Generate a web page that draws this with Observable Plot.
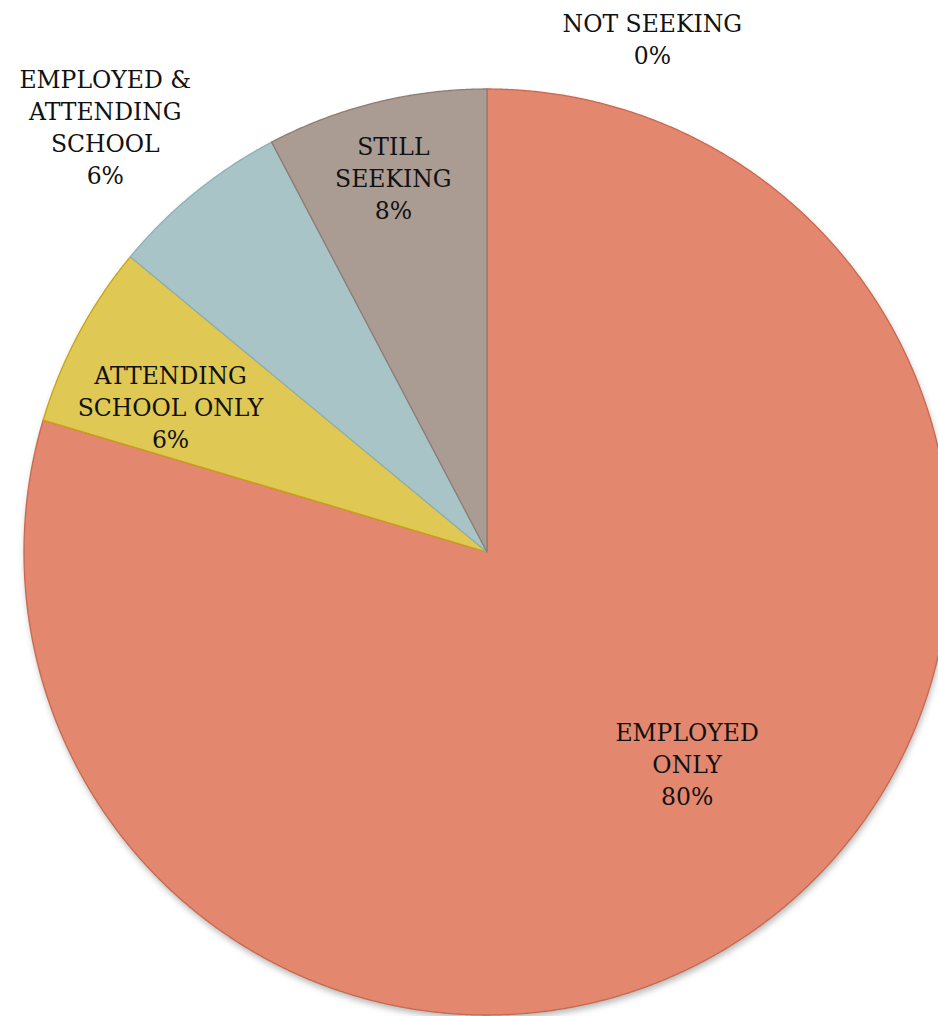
<!DOCTYPE html>
<html><head><meta charset="utf-8">
<script src="https://cdn.jsdelivr.net/npm/d3@7"></script>
<script src="https://cdn.jsdelivr.net/npm/@observablehq/plot@0.6"></script>
<style>html,body{margin:0;padding:0;background:#fff;overflow:hidden}</style>
</head><body><div id="chart"></div>
<script>
// ---- data ----
const categories = ["EMPLOYED\nONLY", "ATTENDING\nSCHOOL ONLY", "EMPLOYED &\nATTENDING\nSCHOOL", "STILL\nSEEKING", "NOT SEEKING"];
const values = [79.6, 6.4, 6.3, 7.7, 0];
const percentLabels = ["80%", "6%", "6%", "8%", "0%"];

// ---- styles / layout ----
const fills = ["#E4876F", "#DFC853", "#A9C4C6", "#AA9C92", "#9FB3CC"];
const strokes = ["#C9684C", "#C4A612", "#8DB0B4", "#8C7D73", "#7F94B0"];
const labelRadius = [0.626, 0.754, 1.237, 0.837, 1.168];
const labelAngleShift = [-6.8, -3.3, -2.8, -0.2, 17.75];

const slices = categories.map((c, i) => ({name: c, value: values[i], pct: percentLabels[i], i}));
const arcs = d3.pie().sort(null).value(d => d.value).startAngle(0).endAngle(2 * Math.PI)(slices);

function wedge(a0, a1) {
  const n = Math.max(2, Math.ceil((a1 - a0) / 0.004));
  return d3.range(n + 1).map(k => {
    const a = a0 + (a1 - a0) * k / n;
    return {x1: Math.sin(a), y1: Math.cos(a), x2: 0, y2: 0};
  });
}

const cx = 487, cy = 552, R = 463;
const marks = [];
// soft shadow under the pie
marks.push(Plot.area(wedge(0, 2 * Math.PI), {x1: "x1", y1: "y1", x2: "x2", y2: "y2", fill: "#000", fillOpacity: 0.28, dy: 4, dx: 1}));
arcs.forEach(a => {
  if (a.data.value <= 0) return;
  marks.push(Plot.area(wedge(a.startAngle, a.endAngle), {
    x1: "x1", y1: "y1", x2: "x2", y2: "y2",
    fill: fills[a.data.i], stroke: strokes[a.data.i], strokeWidth: 1.3, strokeLinejoin: "round"
  }));
});
const labels = arcs.map(a => {
  const ang = (a.startAngle + a.endAngle) / 2 + labelAngleShift[a.data.i] * Math.PI / 180;
  const r = labelRadius[a.data.i];
  return {x: r * Math.sin(ang), y: r * Math.cos(ang), text: a.data.name + "\n" + a.data.pct};
});
marks.push(Plot.text(labels, {x: "x", y: "y", text: "text", fill: "#111", fontSize: 23.5, lineHeight: 1.36, lineAnchor: "middle", textAnchor: "middle"}));

const chart = Plot.plot({
  width: 938, height: 1016,
  margin: 0,
  style: {fontFamily: "'DejaVu Serif', serif", background: "#fff"},
  x: {domain: [-1, 1], range: [cx - R, cx + R], axis: null},
  y: {domain: [-1, 1], range: [cy + R, cy - R], axis: null},
  marks
});
const first = chart.querySelector("g[aria-label=area]");
if (first) first.style.filter = "blur(3px)";
document.getElementById("chart").appendChild(chart);
</script>
</body></html>
